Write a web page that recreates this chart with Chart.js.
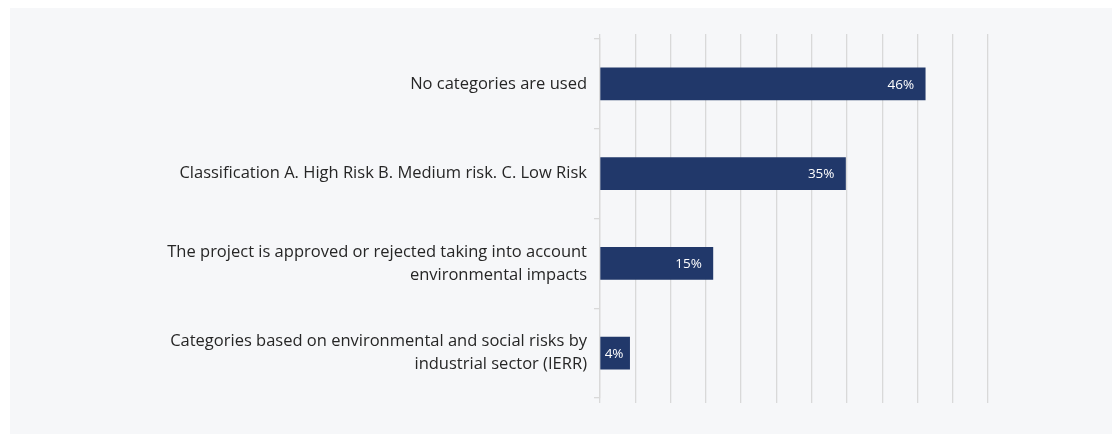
<!DOCTYPE html>
<html>
<head>
<meta charset="utf-8">
<script src="https://cdn.jsdelivr.net/npm/chart.js@4.4.1/dist/chart.umd.min.js"></script>
<style>
  html, body { margin: 0; padding: 0; background: #ffffff; }
  #box {
    position: absolute; left: 10px; top: 8px;
    width: 1102px; height: 426px;
    background: #f6f7f9;
  }
  canvas { display: block; }
</style>
</head>
<body>
<div id="box"><canvas id="myChart" width="1102" height="426"></canvas></div>
<script>
// categories (multi-line labels as they appear)
var categories = [
  "No categories are used",
  "Classification A. High Risk B. Medium risk. C. Low Risk",
  ["The project is approved or rejected taking into account", "environmental impacts"],
  ["Categories based on environmental and social risks by", "industrial sector (IERR)"]
];
// bar lengths (percent)
var values = [46.1, 34.8, 16.0, 4.2];
// text printed on the bars
var valueLabels = ["46%", "35%", "15%", "4%"];

var barColor = '#21386a';
var gridColor = '#d9d9d9';
var fontName = 'Open Sans';

// draws the percentage labels inside the bars
var barLabels = {
  id: 'barLabels',
  afterDatasetsDraw: function(chart) {
    var ctx = chart.ctx;
    var meta = chart.getDatasetMeta(0);
    ctx.save();
    ctx.font = '13.5px "' + fontName + '"';
    ctx.fillStyle = '#ffffff';
    ctx.textAlign = 'right';
    ctx.textBaseline = 'middle';
    meta.data.forEach(function(bar, i) {
      var txt = valueLabels[i];
      var w = ctx.measureText(txt).width;
      var x = Math.max(bar.x - 11, bar.base + 4 + w);
      ctx.fillText(txt, x, bar.y + 1);
    });
    ctx.restore();
  }
};

var ctx = document.getElementById('myChart').getContext('2d');
var chart = new Chart(ctx, {
  type: 'bar',
  data: {
    labels: categories,
    datasets: [{
      data: values,
      backgroundColor: barColor,
      borderWidth: 0,
      barThickness: 32
    }]
  },
  options: {
    indexAxis: 'y',
    responsive: false,
    animation: false,
    events: [],
    layout: { padding: { top: 26, right: 124, bottom: 31, left: 0 } },
    plugins: {
      legend: { display: false },
      tooltip: { enabled: false }
    },
    scales: {
      x: {
        min: 0,
        max: 55,
        ticks: { display: false, stepSize: 5 },
        grid: { color: gridColor, lineWidth: 1.3, drawTicks: true, tickLength: 5 },
        border: { display: false }
      },
      x2: {
        position: 'top',
        min: 0,
        max: 55,
        ticks: { display: false, stepSize: 5 },
        grid: { color: gridColor, lineWidth: 1.3, drawOnChartArea: false, drawTicks: true, tickLength: 5 },
        border: { display: false }
      },
      y: {
        afterFit: function(scale) { scale.width = 590; },
        ticks: {
          color: '#262626',
          font: { family: fontName, size: 16.5, lineHeight: 1.4 },
          padding: 7
        },
        grid: {
          drawOnChartArea: false,
          drawTicks: true,
          tickLength: 6,
          color: gridColor,
          lineWidth: 1.3
        },
        border: { color: gridColor, width: 1.3 }
      }
    }
  },
  plugins: [barLabels]
});
</script>
</body>
</html>
